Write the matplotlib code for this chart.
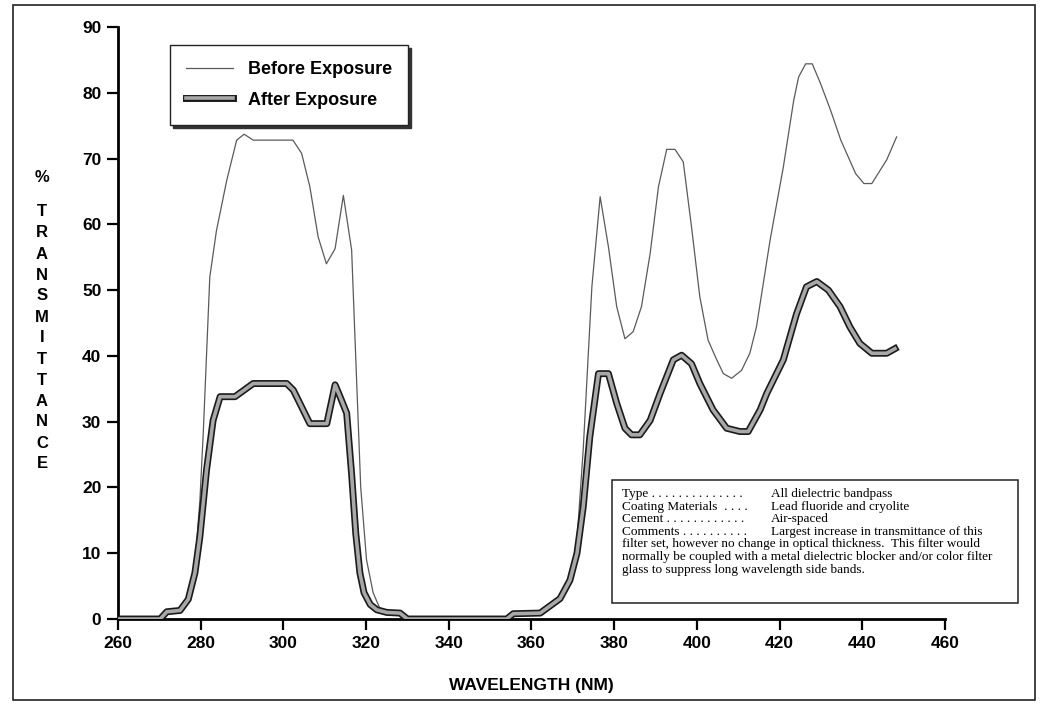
import matplotlib
matplotlib.use('Agg')
import matplotlib.pyplot as plt
import matplotlib.patheffects as pe
from matplotlib.patches import Rectangle

# curva antes de la exposicion (linea delgada)
before_x = [260, 270, 271.8, 275, 277, 278.6, 279.8, 280.6, 281.4, 282.2, 283.8, 286.3, 288.7, 290.5,
            292.7, 302.3, 304.4, 306.4, 308.4, 310.4, 312.5, 314.5, 316.5, 317.6, 318.7, 320.1, 321.7,
            323.4, 325, 328.2, 330.6, 354, 355.6, 362.1, 366.9, 369.3, 371, 372.5, 374.6, 376.6, 378.6,
            380.6, 382.6, 384.6, 386.6, 388.7, 390.7, 392.7, 394.7, 396.7, 398.7, 400.7, 402.7, 404.8,
            406.4, 408.4, 410.8, 412.8, 414.4, 417.7, 420.9, 423.4, 424.6, 426.3, 427.9, 429.9, 432.3,
            434.8, 438.4, 440.4, 442.3, 445.9, 448.3]
before_y = [0, 0, 0.8, 1.2, 3, 8, 18, 28, 40, 52, 59, 66.7, 72.8, 73.7,
            72.8, 72.8, 70.8, 65.7, 58.1, 54, 56.3, 64.4, 56.1, 38, 20, 9, 4,
            1.5, 1, 0.9, 0, 0, 0.8, 0.9, 3.1, 6, 12, 25.7, 50.5, 64.2, 56.6,
            47.5, 42.6, 43.7, 47.5, 55.6, 65.7, 71.4, 71.4, 69.5, 59.6, 49, 42.4, 39.4,
            37.3, 36.6, 37.8, 40.4, 44.4, 57.6, 68.7, 78.8, 82.4, 84.4, 84.4, 81.4, 77.4,
            72.8, 67.7, 66.2, 66.2, 69.8, 73.3]

# curva despues de la exposicion (linea gruesa)
after_x = [260, 270.2, 271.8, 275, 277, 278.6, 279.8, 281.4, 283, 284.7, 288.3, 292.7, 300.8, 302.4,
           306.4, 310.5, 312.5, 313.7, 315.3, 316.5, 317.5, 318.5, 319.5, 321, 322.6, 325, 328.2,
           330, 354, 355.6, 362.1, 366.9, 369.3, 371, 372.5, 374.1, 376.2, 378.6, 380.6, 382.6,
           384.2, 386.2, 388.7, 391.1, 394.3, 396.3, 398.7, 400.7, 403.9, 407.2, 410.4, 412.4,
           415.3, 416.9, 420.9, 424.1, 426.5, 429, 431.8, 434.6, 437, 439.4, 442.3, 445.9, 447.9]
after_y = [0, 0, 1.1, 1.3, 3, 7, 12.5, 22.6, 30.2, 33.8, 33.8, 35.8, 35.8, 34.8,
           29.7, 29.7, 35.6, 33.8, 31.3, 22, 13, 7, 4, 2.2, 1.4, 1, 0.9,
           0, 0, 0.8, 0.9, 3.1, 5.9, 10, 17, 27.7, 37.3, 37.3, 32.8, 29,
           28, 28, 30.2, 34.3, 39.4, 40.1, 38.8, 35.8, 31.8, 29, 28.5, 28.5,
           31.8, 34.3, 39.4, 46.4, 50.5, 51.3, 50, 47.5, 44.4, 41.9, 40.4, 40.4, 41.1]

y_ticks = [0, 10, 20, 30, 40, 50, 60, 70, 80, 90]
x_ticks = [260, 280, 300, 320, 340, 360, 380, 400, 420, 440, 460]

ylabel_letters = list('TRANSMITTANCE')

info_left = ['Type . . . . . . . . . . . . . .', 'Coating Materials  . . . .',
             'Cement . . . . . . . . . . . .', 'Comments . . . . . . . . . .']
info_right = ['All dielectric bandpass', 'Lead fluoride and cryolite', 'Air-spaced',
              'Largest increase in transmittance of this']
info_rest = ['filter set, however no change in optical thickness.  This filter would',
             'normally be coupled with a metal dielectric blocker and/or color filter',
             'glass to suppress long wavelength side bands.']

W, H = 1048, 708
plt.rcParams['font.family'] = ['Liberation Sans', 'DejaVu Sans']

fig = plt.figure(figsize=(W / 100, H / 100), dpi=100)
ax = fig.add_axes([118 / W, 1 - 619 / H, (945 - 118) / W, (619 - 27) / H])

def fx(px):
    return px / W

def fy(py):
    return 1 - py / H

# marco exterior
fig.patches.append(Rectangle((fx(13), fy(700)), fx(1035) - fx(13), fy(5) - fy(700),
                             transform=fig.transFigure, fill=False, lw=1.2, ec='#222222'))

ax.plot(before_x, before_y, color='#5a5a5a', lw=0.9, label='Before Exposure', zorder=3)
ax.plot(after_x, after_y, color='#a8a8a8', lw=2.6, solid_joinstyle='round', label='After Exposure',
        path_effects=[pe.Stroke(linewidth=5.0, foreground='#1a1a1a'), pe.Normal()], zorder=4)

ax.set_xlim(260, 460)
ax.set_ylim(0, 90)
ax.set_xticks(x_ticks)
ax.set_yticks(y_ticks)
for s in ['top', 'right']:
    ax.spines[s].set_visible(False)
ax.spines['left'].set_linewidth(2)
ax.spines['bottom'].set_linewidth(2)
ax.tick_params(axis='both', direction='out', length=8, width=1.6, labelsize=12.5, pad=4)
for lab in ax.get_xticklabels() + ax.get_yticklabels():
    lab.set_fontweight('bold')
ax.patch.set_visible(False)

ax.set_xlabel('WAVELENGTH (NM)', fontsize=12.5, fontweight='bold', labelpad=20)

# etiqueta vertical del eje y, letra por letra
fig.text(fx(42), fy(178), '%', fontsize=12, fontweight='bold', ha='center', va='center')
for i, ch in enumerate(ylabel_letters):
    fig.text(fx(42), fy(212 + i * 21), ch, fontsize=12, fontweight='bold', ha='center', va='center')

leg = ax.legend(loc='upper left', bbox_to_anchor=(fx(170), fy(45)), bbox_transform=fig.transFigure,
                frameon=True, fancybox=False, shadow={'color': '#333333', 'alpha': 1}, handlelength=2.6,
                borderpad=0.9, labelspacing=0.75, handletextpad=0.8, borderaxespad=0,
                prop={'size': 13, 'weight': 'bold'})
leg.get_frame().set_edgecolor('#222222')
leg.get_frame().set_linewidth(1)

# cuadro de informacion
fig.patches.append(Rectangle((fx(612), fy(603)), fx(1018) - fx(612), fy(480) - fy(603),
                             transform=fig.transFigure, fill=True, fc='white', lw=1.1, ec='#222222', zorder=5))
serif = ['Liberation Serif', 'DejaVu Serif']
for i in range(4):
    fig.text(fx(622), fy(494 + i * 12.6), info_left[i], family=serif, fontsize=9.5, va='center', zorder=6)
    fig.text(fx(771), fy(494 + i * 12.6), info_right[i], family=serif, fontsize=9.5, va='center', zorder=6)
for i, line in enumerate(info_rest):
    fig.text(fx(622), fy(494 + (i + 4) * 12.6), line, family=serif, fontsize=9.5, va='center', zorder=6)

fig.savefig('out.png', dpi=100)
